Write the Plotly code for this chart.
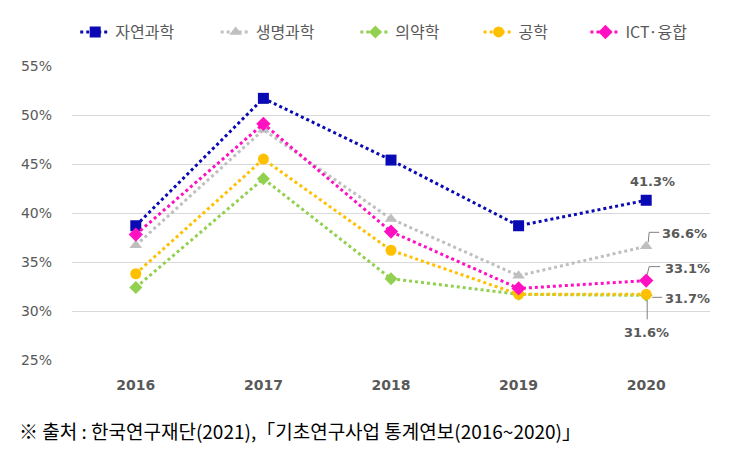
import plotly.graph_objects as go

years = ["2016", "2017", "2018", "2019", "2020"]
series_names = ["자연과학", "생명과학", "의약학", "공학", "ICT·융합"]
natural_sci = [38.7, 51.7, 45.4, 38.7, 41.3]
life_sci = [36.7, 48.5, 39.4, 33.6, 36.6]
medical = [32.4, 43.5, 33.3, 31.7, 31.6]
engineering = [33.8, 45.5, 36.2, 31.7, 31.7]
ict = [37.8, 49.1, 38.1, 32.3, 33.1]
y_ticks = [25, 30, 35, 40, 45, 50, 55]
source_text = "※ 출처 : 한국연구재단(2021),「기초연구사업 통계연보(2016~2020)」"

colors = ["#0A0AB4", "#BFBFBF", "#92D050", "#FFC000", "#FF10C0"]
symbols = ["square", "triangle-up", "diamond", "circle", "diamond"]
sizes = [11, 11, 10, 11, 11]
all_series = [natural_sci, life_sci, medical, engineering, ict]
legend_x = [0.090, 0.278, 0.465, 0.630, 0.773]  # horizontal placement of each legend entry

W, H = 747, 463
fig = go.Figure()
legend_layout = {}
for i, (name, vals, c, s, sz) in enumerate(zip(series_names, all_series, colors, symbols, sizes)):
    lname = "legend" if i == 0 else "legend%d" % (i + 1)
    fig.add_trace(go.Scatter(
        x=years, y=vals, name=name, mode="lines+markers", legend=lname,
        line=dict(color=c, width=3, dash="dot"),
        marker=dict(symbol=s, size=sz, color=c),
    ))
    legend_layout[lname] = dict(
        orientation="h", x=legend_x[i], xanchor="left", y=0.948, yanchor="middle",
        xref="container", yref="container", bgcolor="rgba(0,0,0,0)",
        font=dict(family="Noto Sans CJK KR", size=16, color="#595959"),
    )

label_font = dict(family="DejaVu Sans, Noto Sans", size=13, color="#595959")
last = len(years) - 1  # category index of the last year

def lab(text, val, xs, ys, xanchor="left"):
    fig.add_annotation(x=last, y=val, xref="x", yref="y", text="<b>%s</b>" % text,
                       showarrow=False, xshift=xs, yshift=ys, xanchor=xanchor,
                       yanchor="middle", font=label_font)

def leader(val, path):
    fig.add_shape(type="path", xref="x", yref="y", xsizemode="pixel", ysizemode="pixel",
                  xanchor=last, yanchor=val, path=path,
                  line=dict(color="#7F7F7F", width=1))

# 41.3 label above
lab("%.1f%%" % natural_sci[-1], natural_sci[-1], 6, 19, "center")
# 36.6
leader(life_sci[-1], "M 2,4 L 3,14 L 13,14")
lab("%.1f%%" % life_sci[-1], life_sci[-1], 14, 13)
# 33.1
leader(ict[-1], "M 1,6 L 3,14 L 14,14")
lab("%.1f%%" % ict[-1], ict[-1], 17, 12)
# 31.7
leader(engineering[-1], "M 6,-3 L 16,-3")
lab("%.1f%%" % engineering[-1], engineering[-1], 17, -4)
# 31.6
leader(medical[-1], "M 1,-5 L 1,-24")
lab("%.1f%%" % medical[-1], medical[-1], 0, -37, "center")

fig.add_annotation(xref="paper", yref="paper", x=-0.086, y=0, xanchor="left", yanchor="middle",
                   yshift=-70, text=source_text, showarrow=False,
                   font=dict(family="Noto Sans CJK KR", size=19, color="#000000"))

fig.update_layout(
    width=W, height=H,
    margin=dict(l=64, r=45, t=58, b=111, autoexpand=False),
    plot_bgcolor="white", paper_bgcolor="white",
    showlegend=True,
    xaxis=dict(type="category", range=[-0.5, 4.5], showgrid=False, showline=False,
               ticks="", ticklabelstandoff=15, automargin=False,
               tickfont=dict(family="DejaVu Sans", size=14, color="#595959", weight="bold")),
    yaxis=dict(range=[25, 55], tickvals=y_ticks, ticktext=["%d%%" % v for v in y_ticks],
               showgrid=True, gridcolor="#D9D9D9", gridwidth=1, zeroline=False,
               showline=False, ticklabelstandoff=19, automargin=False,
               tickfont=dict(family="DejaVu Sans", size=14, color="#595959")),
    **legend_layout,
)
fig.write_html("out.html")
